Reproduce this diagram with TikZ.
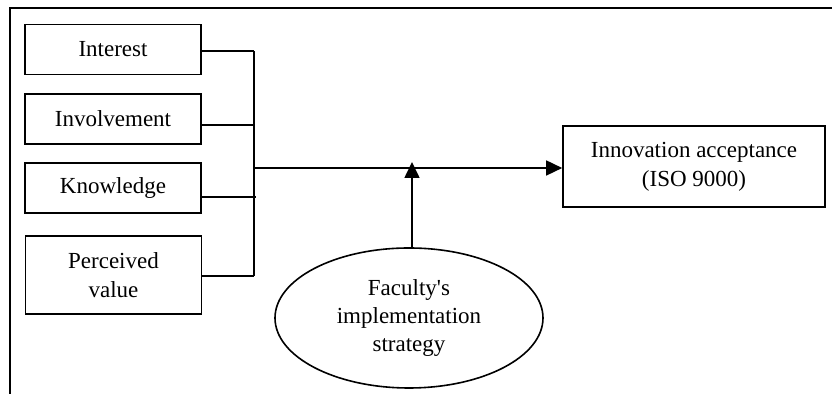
\documentclass[tikz,border=0pt]{standalone}
\usepackage{fontspec}
\setmainfont{Liberation Serif}
\usetikzlibrary{arrows.meta,shapes.geometric}

\begin{document}
\begin{tikzpicture}[x=0.5pt, y=-0.5pt, line width=0.8pt,
    factor/.style={draw, rectangle, align=center, inner sep=0pt,
      minimum width=88pt, minimum height=25pt,
      font=\fontsize{11.5}{14.5}\selectfont},
    moderator/.style={draw, ellipse, align=center, inner sep=0pt,
      minimum width=134pt, minimum height=70pt,
      font=\fontsize{11.5}{14}\selectfont},
    arr/.style={-{Triangle[length=8pt,width=7.5pt]}}]
      \useasboundingbox (0,0) rectangle (832,394);
      % frame:
      %   only the top and left sides are in the picture
      \draw (10,394) -- (10,8) -- (832,8);
      % factors:
      %   the four boxes on the left
      \node[factor] (interest) at (113,49.5) {Interest};
      \node[factor] (involvement) at (113,119) {Involvement};
      \node[factor] (knowledge) at (113,188) {Knowledge};
      \node[factor, minimum height=39pt] (perceived) at (113.5,275) {Perceived\\value};
      % acceptance:
      %   the outcome box
      \node[factor, minimum width=131pt, minimum height=40.5pt] (accept) at (694,166.5)
        {Innovation acceptance\\(ISO 9000)};
      % strategy:
      %   the ellipse under the main line
      \node[moderator] (strategy) at (409,318)
        {Faculty\textquotesingle s\\implementation\\strategy};
      % joints on the bracket
      \coordinate (j1) at (254,51);
      \coordinate (j2) at (254,125);
      \coordinate (j3) at (256,197);
      \coordinate (j4) at (254,276);
      \coordinate (hub) at (254,168);
      \coordinate (tip) at (412,162);
      \draw (interest.east |- j1) -- (j1);
      \draw (involvement.east |- j2) -- (j2);
      \draw (knowledge.east |- j3) -- (j3);
      \draw (perceived.east |- j4) -- (j4);
      \draw (j1) -- (j4);
      \draw[arr] (hub) -- (accept.west |- hub);
      \draw[arr] (strategy.north -| tip) -- (tip);
\end{tikzpicture}
\end{document}
